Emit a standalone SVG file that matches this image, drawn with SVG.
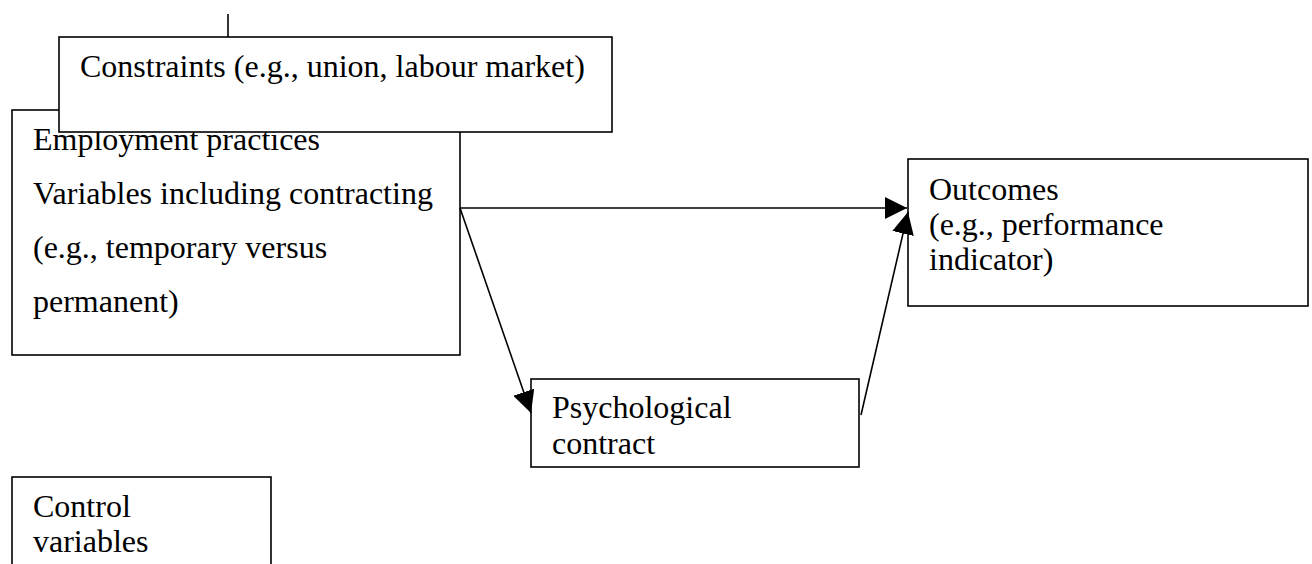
<svg xmlns="http://www.w3.org/2000/svg" width="1312" height="564" viewBox="0 0 1312 564">
<style>
.box{fill:#fff;stroke:#000;stroke-width:1.6}
.t{font-family:"Liberation Serif","Times New Roman",serif;font-size:32px;fill:#000}
.c{stroke:#000;stroke-width:1.6;fill:none}
</style>
<defs>
<marker id="ah" markerUnits="userSpaceOnUse" markerWidth="22" markerHeight="22" viewBox="0 0 20 20" refX="20" refY="10" orient="auto">
<path d="M0,0 L20,10 L0,20 z" fill="#000"/>
</marker>
</defs>
<g id="employment">
<rect class="box" x="12" y="110" width="448" height="245"/>
<text class="t" x="33" y="150">Employment practices</text>
<text class="t" x="33" y="204">Variables including contracting</text>
<text class="t" x="33" y="258">(e.g., temporary versus</text>
<text class="t" x="33" y="312">permanent)</text>
</g>
<g id="constraints">
<rect class="box" x="59" y="37" width="553" height="95"/>
<text class="t" x="80" y="77">Constraints (e.g., union, labour market)</text>
</g>
<g id="outcomes">
<rect class="box" x="908" y="159" width="400" height="147"/>
<text class="t" x="929" y="200">Outcomes</text>
<text class="t" x="929" y="235">(e.g., performance</text>
<text class="t" x="929" y="270">indicator)</text>
</g>
<g id="psychological">
<rect class="box" x="531" y="379" width="328" height="88"/>
<text class="t" x="552" y="418">Psychological</text>
<text class="t" x="552" y="454">contract</text>
</g>
<g id="control">
<rect class="box" x="12" y="477" width="259" height="120"/>
<text class="t" x="33" y="517">Control</text>
<text class="t" x="33" y="552">variables</text>
</g>
<g id="connectors">
<line class="c" x1="228" y1="14" x2="228" y2="37"/>
<line class="c" x1="460" y1="208" x2="907" y2="208" marker-end="url(#ah)"/>
<line class="c" x1="460" y1="208" x2="531" y2="413" marker-end="url(#ah)"/>
<line class="c" x1="861" y1="415" x2="908" y2="212" marker-end="url(#ah)"/>
</g>
</svg>
